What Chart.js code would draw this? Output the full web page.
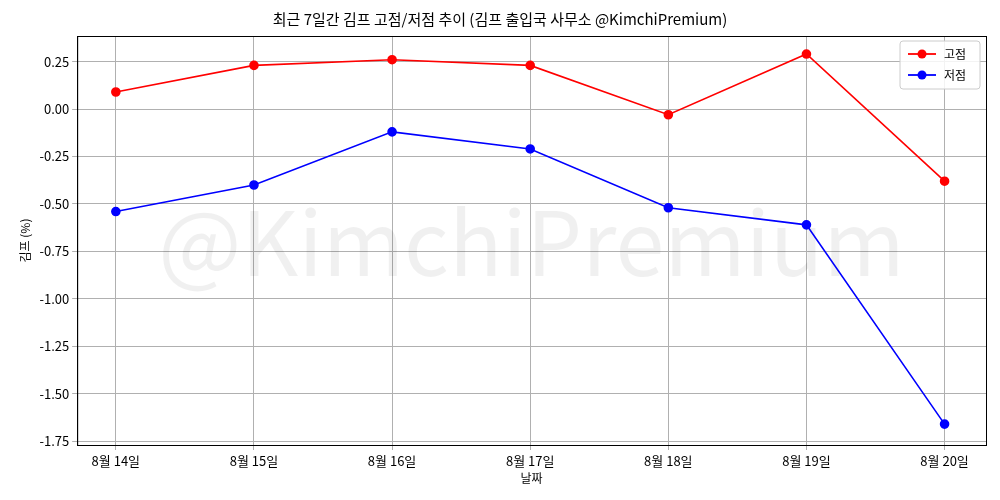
<!DOCTYPE html>
<html><head><meta charset="utf-8">
<script src="https://cdn.jsdelivr.net/npm/chart.js@4"></script>
<style>body{margin:0;background:#fff}#w{width:1000px;height:500px}</style>
</head><body><div id="w"><canvas id="c"></canvas></div>
<script>
const categories=['8월 14일','8월 15일','8월 16일','8월 17일','8월 18일','8월 19일','8월 20일'];
const highVals=[0.09,0.23,0.26,0.23,-0.03,0.29,-0.38];
const lowVals=[-0.54,-0.40,-0.12,-0.21,-0.52,-0.61,-1.66];
const yTicks=[0.25,0,-0.25,-0.5,-0.75,-1,-1.25,-1.5,-1.75];
const F="'Noto Sans CJK KR','DejaVu Sans',sans-serif";
Chart.defaults.font.family=F;Chart.defaults.color='#000';
const wm={id:'wm',beforeDatasetsDraw(ch){const a=ch.chartArea,x=ch.ctx;x.save();x.font="88px "+F;x.fillStyle='rgba(0,0,0,0.06)';x.textAlign='center';x.textBaseline='middle';x.fillText('@KimchiPremium',(a.left+a.right)/2,(a.top+a.bottom)/2+2);x.restore();},
afterDraw(ch){const a=ch.chartArea,x=ch.ctx;x.save();x.strokeStyle='#000';x.lineWidth=1;x.strokeRect(a.left+0.5,a.top+0.5,a.width,a.height);
const bw=80,bh=48,bx=a.right-bw-6,by=a.top+5;x.fillStyle='rgba(255,255,255,0.85)';x.strokeStyle='#ccc';x.beginPath();x.roundRect(bx,by,bw,bh,3);x.fill();x.stroke();
ch.data.datasets.forEach((d,i)=>{const y=by+13+i*21;x.strokeStyle=d.borderColor;x.lineWidth=1.8;x.beginPath();x.moveTo(bx+8,y);x.lineTo(bx+36,y);x.stroke();x.fillStyle=d.borderColor;x.beginPath();x.arc(bx+22,y,4.5,0,7);x.fill();x.fillStyle='#000';x.font='12px '+F;x.textBaseline='middle';x.fillText(d.label,bx+44,y);});x.restore();}};
const mk=(l,v,c)=>({label:l,data:v.map((y,i)=>({x:i,y})),borderColor:c,backgroundColor:c,pointRadius:4,pointHoverRadius:4,borderWidth:1.6,tension:0});
new Chart(document.getElementById('c'),{type:'line',data:{datasets:[mk('고점',highVals,'#ff0000'),mk('저점',lowVals,'#0000ff')]},
options:{responsive:true,maintainAspectRatio:false,animation:false,
layout:{padding:{left:14,right:14,top:4,bottom:14}},
plugins:{title:{display:true,text:'최근 7일간 김프 고점/저점 추이 (김프 출입국 사무소 @KimchiPremium)',font:{size:15,weight:'normal'},padding:{top:6,bottom:8}},
legend:{display:false},tooltip:{enabled:false}},
scales:{x:{type:'linear',min:-0.28,max:6.3,afterBuildTicks:s=>{s.ticks=categories.map((_,i)=>({value:i}));},
ticks:{callback:v=>categories[v],font:{size:13},maxRotation:0},grid:{color:'#b0b0b0',drawTicks:true,tickLength:5},border:{color:'#000'},
title:{display:true,text:'날짜',font:{size:12},padding:0}},
y:{min:-1.77,max:0.385,afterBuildTicks:s=>{s.ticks=yTicks.map(v=>({value:v}));},
ticks:{callback:v=>v.toFixed(2),font:{size:13}},grid:{color:'#b0b0b0',tickLength:5},border:{color:'#000'},
title:{display:true,text:'김프 (%)',font:{size:12},padding:4}}}},
plugins:[wm]});
</script></body></html>
